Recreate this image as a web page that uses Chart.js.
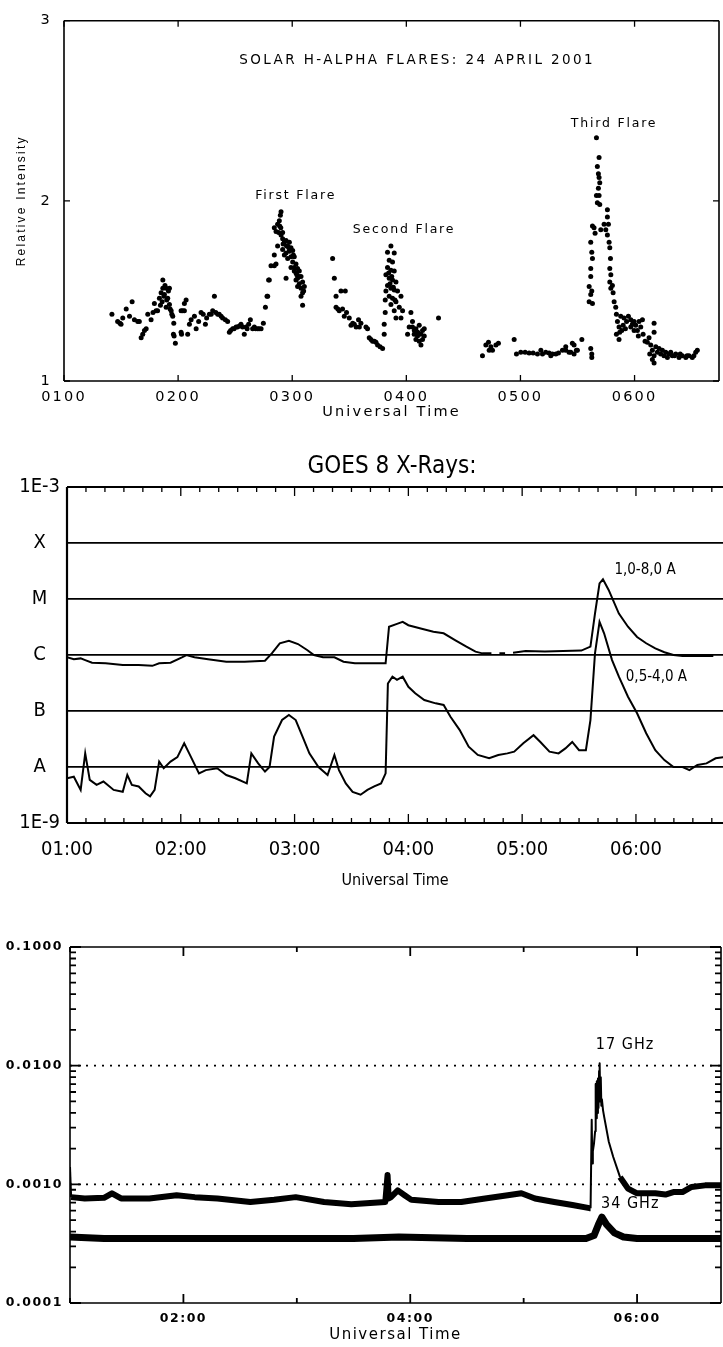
<!DOCTYPE html>
<html>
<head>
<meta charset="utf-8">
<script src="https://cdn.jsdelivr.net/npm/chart.js@4.4.1/dist/chart.umd.min.js"></script>
<style>
  body { margin: 0; background: #fff; }
  #wrap { position: relative; width: 723px; height: 1347px; overflow: hidden; background: #fff; }
  canvas { position: absolute; left: 0; }
</style>
</head>
<body>
<div id="wrap">
  <canvas id="c1" width="723" height="425" style="top:0px"></canvas>
  <canvas id="c2" width="723" height="475" style="top:425px"></canvas>
  <canvas id="c3" width="723" height="447" style="top:900px"></canvas>
</div>
<script>
// ---- panel 1: H-alpha relative intensity, [hour UT, intensity] ----
const haPoints = [
  [1.42,1.37],[1.47,1.33],[1.49,1.32],[1.50,1.315],[1.515,1.35],[1.545,1.40],[1.574,1.36],[1.597,1.44],
  [1.617,1.34],[1.646,1.33],[1.66,1.33],[1.676,1.24],[1.69,1.26],[1.705,1.28],[1.72,1.29],[1.734,1.37],
  [1.763,1.34],[1.78,1.38],[1.792,1.43],[1.807,1.39],[1.82,1.39],[1.836,1.46],[1.845,1.42],[1.851,1.49],
  [1.86,1.44],[1.866,1.56],[1.866,1.515],[1.875,1.47],[1.88,1.48],[1.885,1.53],[1.895,1.515],[1.895,1.41],
  [1.90,1.45],[1.909,1.46],[1.915,1.50],[1.924,1.515],[1.924,1.425],[1.93,1.40],[1.939,1.39],[1.945,1.37],
  [1.953,1.36],[1.962,1.32],[1.959,1.26],[1.965,1.25],[1.976,1.21],[2.026,1.27],[2.03,1.26],[2.026,1.39],
  [2.04,1.39],[2.055,1.43],[2.055,1.39],[2.07,1.45],[2.084,1.26],[2.099,1.315],[2.114,1.34],[2.143,1.36],
  [2.158,1.29],[2.18,1.33],[2.201,1.38],[2.22,1.37],[2.239,1.315],[2.25,1.35],[2.274,1.37],[2.29,1.37],
  [2.303,1.39],[2.318,1.47],[2.33,1.38],[2.347,1.37],[2.36,1.37],[2.377,1.36],[2.39,1.35],[2.414,1.34],
  [2.434,1.33],[2.449,1.27],[2.46,1.28],[2.478,1.29],[2.49,1.29],[2.508,1.30],[2.52,1.30],[2.537,1.305],
  [2.551,1.315],[2.565,1.30],[2.58,1.26],[2.595,1.30],[2.605,1.29],[2.618,1.315],[2.633,1.34],[2.653,1.29],
  [2.668,1.30],[2.68,1.29],[2.697,1.29],[2.71,1.29],[2.727,1.29],[2.747,1.32],[2.765,1.41],[2.779,1.47],
  [2.785,1.47],[2.793,1.56],[2.799,1.56],[2.814,1.64],[2.843,1.64],[2.858,1.65],[2.843,1.70],[2.872,1.75],
  [2.872,1.87],[2.843,1.85],[2.858,1.83],[2.881,1.825],[2.887,1.89],[2.896,1.92],[2.902,1.94],[2.902,1.81],
  [2.916,1.825],[2.916,1.79],[2.916,1.73],[2.931,1.77],[2.931,1.70],[2.946,1.78],[2.946,1.71],[2.946,1.57],
  [2.96,1.75],[2.96,1.68],[2.975,1.77],[2.975,1.72],[2.989,1.74],[2.989,1.69],[2.989,1.63],[3.004,1.725],
  [3.004,1.66],[3.018,1.69],[3.018,1.63],[3.018,1.61],[3.033,1.65],[3.033,1.60],[3.033,1.56],[3.047,1.625],
  [3.047,1.57],[3.047,1.525],[3.062,1.61],[3.062,1.54],[3.077,1.58],[3.077,1.515],[3.077,1.47],[3.091,1.55],
  [3.091,1.49],[3.091,1.42],[3.106,1.525],[3.10,1.50],[3.06,1.58],[3.04,1.59],[3.01,1.70],[2.97,1.74],
  [2.95,1.75],[2.92,1.76],[2.90,1.85],[2.89,1.86],
  [3.354,1.68],[3.369,1.57],[3.384,1.47],[3.427,1.50],[3.465,1.50],[3.384,1.41],[3.40,1.40],[3.412,1.39],
  [3.441,1.40],[3.456,1.36],[3.476,1.38],[3.50,1.35],[3.515,1.31],[3.53,1.32],[3.544,1.315],[3.56,1.30],
  [3.581,1.34],[3.588,1.30],[3.602,1.32],[3.646,1.30],[3.66,1.29],[3.675,1.24],[3.69,1.23],[3.704,1.22],
  [3.72,1.22],[3.734,1.215],[3.748,1.20],[3.77,1.19],[3.792,1.18],[3.806,1.315],[3.806,1.26],[3.815,1.45],
  [3.815,1.38],[3.821,1.59],[3.821,1.50],[3.835,1.715],[3.835,1.63],[3.835,1.53],[3.845,1.60],[3.85,1.67],
  [3.85,1.57],[3.85,1.47],[3.857,1.54],[3.865,1.75],[3.865,1.615],[3.865,1.515],[3.865,1.425],[3.872,1.58],
  [3.879,1.66],[3.879,1.56],[3.879,1.46],[3.886,1.52],[3.894,1.71],[3.894,1.61],[3.894,1.505],[3.894,1.39],
  [3.90,1.45],[3.909,1.55],[3.909,1.44],[3.909,1.35],[3.923,1.50],[3.938,1.41],[3.953,1.47],[3.953,1.35],
  [3.967,1.39],[4.011,1.26],[4.025,1.30],[4.04,1.38],[4.054,1.33],[4.054,1.30],[4.069,1.26],[4.084,1.29],
  [4.084,1.23],[4.098,1.25],[4.113,1.31],[4.113,1.22],[4.128,1.26],[4.128,1.20],[4.142,1.28],[4.142,1.23],
  [4.157,1.29],[4.157,1.25],[4.07,1.28],[4.10,1.27],[4.282,1.35],
  [4.667,1.14],[4.697,1.20],[4.72,1.215],[4.726,1.17],[4.741,1.19],[4.755,1.17],[4.785,1.20],[4.807,1.21],
  [4.945,1.23],[4.965,1.15],[5.003,1.16],[5.041,1.16],[5.076,1.155],[5.111,1.155],[5.149,1.15],[5.179,1.17],
  [5.193,1.15],[5.222,1.16],[5.251,1.155],[5.266,1.14],[5.28,1.15],[5.31,1.15],[5.333,1.155],[5.368,1.17],
  [5.397,1.17],[5.397,1.19],[5.426,1.16],[5.441,1.16],[5.455,1.21],[5.47,1.15],[5.47,1.20],[5.49,1.17],
  [5.499,1.17],[5.538,1.23],[5.616,1.18],[5.625,1.15],[5.625,1.13],
  [5.602,1.525],[5.602,1.44],[5.616,1.48],[5.616,1.58],[5.616,1.625],[5.616,1.77],[5.625,1.50],[5.625,1.715],
  [5.631,1.68],[5.631,1.43],[5.631,1.86],[5.645,1.85],[5.654,1.82],[5.666,2.35],[5.666,2.03],[5.674,2.19],
  [5.674,1.99],[5.683,2.15],[5.683,2.07],[5.689,2.24],[5.689,2.13],[5.689,2.03],[5.695,2.10],[5.695,1.98],
  [5.704,1.84],[5.733,1.87],[5.748,1.84],[5.762,1.95],[5.762,1.91],[5.762,1.81],[5.771,1.87],[5.777,1.77],
  [5.783,1.74],[5.789,1.68],[5.783,1.625],[5.792,1.59],[5.783,1.55],[5.806,1.53],[5.792,1.515],[5.812,1.49],
  [5.821,1.44],[5.835,1.41],[5.841,1.37],[5.85,1.33],[5.864,1.30],[5.841,1.26],[5.864,1.23],[5.888,1.28],
  [5.879,1.36],[5.908,1.35],[5.946,1.36],[5.967,1.34],[5.981,1.315],[5.996,1.33],[6.01,1.31],[6.025,1.28],
  [6.039,1.33],[6.054,1.30],[6.069,1.34],[6.075,1.26],[6.033,1.25],[5.996,1.28],[5.967,1.30],[5.93,1.33],
  [5.92,1.29],[5.90,1.31],[5.87,1.27],[6.092,1.22],[6.112,1.215],[6.127,1.24],[6.171,1.32],[6.171,1.27],
  [6.142,1.20],[6.156,1.17],[6.186,1.19],[6.20,1.16],[6.171,1.14],[6.171,1.10],[6.215,1.18],[6.229,1.15],
  [6.244,1.17],[6.258,1.14],[6.273,1.16],[6.288,1.13],[6.317,1.16],[6.331,1.14],[6.361,1.15],[6.39,1.13],
  [6.419,1.14],[6.449,1.13],[6.477,1.14],[6.506,1.13],[6.536,1.16],[6.55,1.17],[6.133,1.15],[6.156,1.12],
  [6.30,1.15],[6.35,1.14],[6.40,1.15],[6.46,1.14],[6.52,1.14]
];
const haHours = [1, 2, 3, 4, 5, 6];
const haLevels = [1, 2, 3];

// ---- panel 2: GOES 8 X-ray flux (W/m^2), [hour UT, flux] ----
const goesLong = [
  [1.00,9.1e-7],[1.06,8.4e-7],[1.12,8.7e-7],[1.16,8.1e-7],[1.22,7.3e-7],[1.34,7.1e-7],[1.49,6.6e-7],[1.63,6.6e-7],
  [1.75,6.4e-7],[1.81,7.1e-7],[1.91,7.3e-7],[2.01,9.1e-7],[2.05,1.0e-6],[2.12,9.1e-7],[2.24,8.4e-7],[2.40,7.6e-7],
  [2.56,7.6e-7],[2.74,7.9e-7],[2.80,1.07e-6],[2.87,1.62e-6],[2.95,1.8e-6],[3.03,1.57e-6],[3.11,1.23e-6],[3.17,1.0e-6],
  [3.25,9.1e-7],[3.35,9.1e-7],[3.43,7.6e-7],[3.53,7.1e-7],[3.66,7.1e-7],[3.80,7.1e-7],[3.83,3.2e-6],[3.90,3.6e-6],
  [3.95,3.9e-6],[4.00,3.4e-6],[4.10,3.0e-6],[4.22,2.6e-6],[4.31,2.44e-6],[4.41,1.85e-6],[4.51,1.41e-6],[4.59,1.15e-6],
  [4.65,1.07e-6],[4.73,1.07e-6],[4.76,null],[4.80,1.07e-6],[4.85,1.07e-6],[4.88,null],[4.92,1.1e-6],[5.03,1.18e-6],
  [5.20,1.15e-6],[5.36,1.18e-6],[5.52,1.2e-6],[5.60,1.41e-6],[5.64,5.5e-6],[5.68,1.9e-5],[5.71,2.24e-5],[5.76,1.45e-5],
  [5.85,5.5e-6],[5.93,3.2e-6],[6.01,2.1e-6],[6.09,1.62e-6],[6.17,1.31e-6],[6.25,1.12e-6],[6.33,1.0e-6],[6.41,9.6e-7],
  [6.49,9.6e-7],[6.68,9.6e-7]
];
const goesShort = [
  [1.00,6.3e-9],[1.06,6.7e-9],[1.12,3.9e-9],[1.16,1.75e-8],[1.20,5.9e-9],[1.26,4.8e-9],[1.32,5.5e-9],[1.41,3.9e-9],
  [1.49,3.6e-9],[1.53,7.2e-9],[1.57,4.8e-9],[1.63,4.5e-9],[1.69,3.4e-9],[1.73,3.0e-9],[1.77,3.9e-9],[1.81,1.25e-8],
  [1.85,9.5e-9],[1.91,1.25e-8],[1.97,1.5e-8],[2.03,2.65e-8],[2.09,1.5e-8],[2.16,7.7e-9],[2.22,8.8e-9],[2.32,9.5e-9],
  [2.40,7.2e-9],[2.48,6.3e-9],[2.58,5.1e-9],[2.62,1.75e-8],[2.68,1.16e-8],[2.74,8.3e-9],[2.78,1.0e-8],[2.82,3.5e-8],
  [2.89,6.9e-8],[2.95,8.5e-8],[3.01,6.9e-8],[3.07,3.5e-8],[3.13,1.75e-8],[3.21,1.0e-8],[3.29,7.2e-9],[3.35,1.64e-8],
  [3.39,8.8e-9],[3.45,5.1e-9],[3.51,3.6e-9],[3.58,3.2e-9],[3.64,3.9e-9],[3.70,4.5e-9],[3.76,5.1e-9],[3.80,7.7e-9],
  [3.82,3.1e-7],[3.86,4.1e-7],[3.90,3.6e-7],[3.95,4.1e-7],[4.00,2.7e-7],[4.06,2.07e-7],[4.14,1.57e-7],[4.24,1.37e-7],
  [4.31,1.28e-7],[4.37,7.9e-8],[4.45,4.6e-8],[4.53,2.3e-8],[4.61,1.64e-8],[4.71,1.43e-8],[4.79,1.64e-8],[4.87,1.75e-8],
  [4.93,1.88e-8],[5.01,2.65e-8],[5.10,3.7e-8],[5.16,2.8e-8],[5.24,1.88e-8],[5.32,1.75e-8],[5.38,2.15e-8],[5.44,2.8e-8],
  [5.50,2.0e-8],[5.56,2.0e-8],[5.60,6.9e-8],[5.64,1.07e-6],[5.68,3.9e-6],[5.72,2.44e-6],[5.79,8.1e-7],[5.85,4.1e-7],
  [5.93,1.8e-7],[6.01,9.1e-8],[6.09,4.0e-8],[6.17,2.0e-8],[6.25,1.33e-8],[6.33,1.0e-8],[6.41,1.0e-8],[6.47,8.8e-9],
  [6.54,1.09e-8],[6.62,1.16e-8],[6.70,1.43e-8],[6.77,1.5e-8]
];
const goesExp = [-9, -8, -7, -6, -5, -4, -3];
const goesClass = ['1E-9', 'A', 'B', 'C', 'M', 'X', '1E-3'];
const goesHours = [1, 2, 3, 4, 5, 6];

// ---- panel 3: radio flux at 17 and 34 GHz, [hour UT, flux] ----
const radio17 = [
  [1.00,1.4e-3],[1.01,7.8e-4],[1.13,7.6e-4],[1.30,7.7e-4],[1.37,8.4e-4],[1.45,7.6e-4],[1.70,7.6e-4],[1.94,8.1e-4],
  [2.10,7.8e-4],[2.30,7.6e-4],[2.59,7.1e-4],[2.80,7.4e-4],[2.99,7.8e-4],[3.24,7.1e-4],[3.48,6.8e-4],[3.78,7.1e-4],
  [3.80,1.2e-3],[3.81,7.6e-4],[3.83,7.8e-4],[3.89,8.9e-4],[3.95,8.1e-4],[4.01,7.4e-4],[4.25,7.1e-4],[4.45,7.1e-4],
  [4.66,7.6e-4],[4.86,8.1e-4],[4.98,8.4e-4],[5.10,7.6e-4],[5.27,7.1e-4],[5.43,6.7e-4],[5.58,6.3e-4],[5.59,6.3e-4],
  [5.60,3.5e-3],[5.605,1.5e-3],[5.61,1.9e-3],[5.62,2.2e-3],[5.63,2.8e-3],[5.635,7.0e-3],[5.64,3.6e-3],[5.645,7.4e-3],
  [5.65,4.0e-3],[5.655,7.8e-3],[5.66,4.4e-3],[5.665,9.0e-3],[5.67,1.05e-2],[5.675,5.0e-3],[5.68,8.0e-3],[5.685,4.6e-3],
  [5.69,5.2e-3],[5.70,4.2e-3],[5.71,3.7e-3],[5.75,2.3e-3],[5.79,1.7e-3],[5.85,1.15e-3],[5.92,9.2e-4],[6.00,8.4e-4],
  [6.16,8.4e-4],[6.25,8.2e-4],[6.32,8.6e-4],[6.40,8.6e-4],[6.48,9.5e-4],[6.60,9.8e-4],[6.75,9.8e-4]
];
const radio34 = [
  [1.00,3.6e-4],[1.30,3.5e-4],[1.80,3.5e-4],[2.50,3.5e-4],[3.00,3.5e-4],[3.50,3.5e-4],[3.90,3.6e-4],[4.50,3.5e-4],
  [5.00,3.5e-4],[5.55,3.5e-4],[5.62,3.7e-4],[5.66,4.6e-4],[5.69,5.3e-4],[5.73,4.6e-4],[5.80,3.9e-4],[5.88,3.6e-4],
  [6.00,3.5e-4],[6.40,3.5e-4],[6.75,3.5e-4]
];
const radioExp = [-4, -3, -2, -1];
const radioHours = [2, 4, 6];

const F1 = "'DejaVu Sans', sans-serif";
const F2 = "'Liberation Sans Narrow', 'DejaVu Sans Condensed', 'DejaVu Sans', sans-serif";
const F3 = "'DejaVu Sans', sans-serif";

const toXY = arr => arr.map(p => ({ x: p[0], y: p[1] }));
const hh = v => '0' + v;

// frame, inward tick marks and extra reference lines
const frame = {
  id: 'frame',
  afterDraw(chart, args, o) {
    const { ctx, chartArea: a, scales: { x, y } } = chart;
    ctx.save();
    ctx.strokeStyle = '#000';
    ctx.lineCap = 'butt';
    (o.hlines || []).forEach(h => {
      ctx.beginPath();
      ctx.lineWidth = 1.6;
      ctx.setLineDash([2, 6]);
      const py = y.getPixelForValue(h);
      ctx.moveTo(a.left, py); ctx.lineTo(a.right, py);
      ctx.stroke();
    });
    ctx.setLineDash([]);
    ctx.lineWidth = o.width || 1.5;
    ctx.beginPath();
    if (o.sides.includes('l')) { ctx.moveTo(a.left, a.top); ctx.lineTo(a.left, a.bottom); }
    if (o.sides.includes('b')) { ctx.moveTo(a.left, a.bottom); ctx.lineTo(a.right, a.bottom); }
    if (o.sides.includes('t')) { ctx.moveTo(a.left, a.top); ctx.lineTo(a.right, a.top); }
    if (o.sides.includes('r')) { ctx.moveTo(a.right, a.top); ctx.lineTo(a.right, a.bottom); }
    ctx.stroke();
    ctx.lineWidth = o.tickWidth || 1.3;
    ctx.beginPath();
    (o.xTicks || []).forEach(t => {
      const px = x.getPixelForValue(t[0]);
      if (px < a.left - 0.5 || px > a.right + 0.5) return;
      ctx.moveTo(px, a.bottom); ctx.lineTo(px, a.bottom - t[1]);
      ctx.moveTo(px, a.top); ctx.lineTo(px, a.top + t[1]);
    });
    (o.yTicks || []).forEach(t => {
      const py = y.getPixelForValue(t[0]);
      ctx.moveTo(a.left, py); ctx.lineTo(a.left + t[1], py);
      if (o.sides.includes('r')) { ctx.moveTo(a.right, py); ctx.lineTo(a.right - t[1], py); }
    });
    ctx.stroke();
    ctx.restore();
  }
};

// text notes placed in data coordinates
const notes = {
  id: 'notes',
  afterDraw(chart, args, o) {
    const { ctx, scales: { x, y } } = chart;
    ctx.save();
    ctx.fillStyle = '#000';
    ctx.textAlign = 'center';
    ctx.textBaseline = 'middle';
    (o.items || []).forEach(n => {
      ctx.font = n.font;
      ctx.letterSpacing = n.spacing || '0px';
      ctx.fillText(n.text, x.getPixelForValue(n.x), y.getPixelForValue(n.y));
    });
    ctx.restore();
  }
};

// letter spacing for the library-drawn tick labels and titles
const spacing = {
  id: 'spacing',
  beforeDraw(chart, args, o) { chart.ctx.letterSpacing = o.px || '0px'; },
  afterDraw(chart) { chart.ctx.letterSpacing = '0px'; }
};

const base = {
  responsive: false,
  animation: false,
  events: [],
};

// ---------------- panel 1 ----------------
new Chart(document.getElementById('c1'), {
  type: 'scatter',
  data: {
    datasets: [{
      data: toXY(haPoints),
      pointRadius: 2.5,
      pointBackgroundColor: '#000',
      pointBorderWidth: 0
    }]
  },
  options: {
    ...base,
    layout: { padding: { top: 14, right: 3, left: 0, bottom: 0 } },
    plugins: {
      legend: { display: false }, tooltip: { enabled: false },
      spacing: { px: '2.2px' },
      frame: {
        sides: 'lbtr', width: 1.6,
        xTicks: haHours.map(h => [h, 6]),
        yTicks: haLevels.map(v => [v, 6])
      },
      notes: {
        items: [
          { text: 'SOLAR H-ALPHA FLARES: 24 APRIL 2001', x: 4.095, y: 2.78, font: '13.5px ' + F1, spacing: '2.4px' },
          { text: 'First Flare', x: 3.03, y: 2.027, font: '12.5px ' + F1, spacing: '1.8px' },
          { text: 'Second Flare', x: 3.98, y: 1.84, font: '12.5px ' + F1, spacing: '1.8px' },
          { text: 'Third Flare', x: 5.82, y: 2.43, font: '12.5px ' + F1, spacing: '1.8px' }
        ]
      }
    },
    scales: {
      x: {
        type: 'linear', min: 1, max: 6.74,
        afterBuildTicks: s => { s.ticks = haHours.map(v => ({ value: v })); },
        afterFit: s => { s.height = 44; },
        grid: { display: false, drawTicks: false },
        border: { display: false },
        ticks: { padding: 8, color: '#000', font: { family: F1, size: 14.5 }, maxRotation: 0, autoSkip: false,
                 callback: v => hh(v) + '00' },
        title: { display: true, text: 'Universal Time', color: '#000', font: { family: F1, size: 14.5 },
                 padding: { top: 0, bottom: 4 } }
      },
      y: {
        type: 'linear', min: 1, max: 3,
        afterBuildTicks: s => { s.ticks = haLevels.map(v => ({ value: v })); },
        afterFit: s => { s.width = 64; },
        grid: { display: false, drawTicks: false },
        border: { display: false },
        ticks: { padding: 12, color: '#000', font: { family: F1, size: 14.5 } },
        title: { display: true, text: 'Relative Intensity', color: '#000', font: { family: "'Liberation Sans', sans-serif", size: 12 },
                 padding: { top: 14, bottom: 0 } }
      }
    }
  },
  plugins: [frame, notes, spacing]
});

// ---------------- panel 2 ----------------
new Chart(document.getElementById('c2'), {
  type: 'line',
  data: {
    datasets: [
      { data: toXY(goesLong), borderColor: '#000', borderWidth: 2, pointRadius: 0, tension: 0, spanGaps: false },
      { data: toXY(goesShort), borderColor: '#000', borderWidth: 2, pointRadius: 0, tension: 0 }
    ]
  },
  options: {
    ...base,
    layout: { padding: { top: 62, right: 0, left: 0, bottom: 0 } },
    plugins: {
      legend: { display: false }, tooltip: { enabled: false },
      frame: {
        sides: 'lbt', width: 2.2,
        xTicks: Array.from({ length: 36 }, (_, k) => [1 + k / 6, k % 6 === 0 ? 9 : 5])
      },
      notes: {
        items: [
          { text: 'GOES 8 X-Rays:', x: 3.856, y: 2.3e-3, font: '24px ' + F2 },
          { text: '1,0-8,0 A', x: 6.08, y: 3.3e-5, font: '15px ' + F2 },
          { text: '0,5-4,0 A', x: 6.18, y: 4.0e-7, font: '15px ' + F2 }
        ]
      }
    },
    scales: {
      x: {
        type: 'linear', min: 1, max: 6.765,
        afterBuildTicks: s => { s.ticks = goesHours.map(v => ({ value: v })); },
        afterFit: s => { s.height = 77; },
        grid: { display: false, drawTicks: false },
        border: { display: false },
        ticks: { padding: 15, color: '#000', font: { family: F2, size: 20 }, maxRotation: 0, autoSkip: false,
                 callback: v => hh(v) + ':00' },
        title: { display: true, text: 'Universal Time', color: '#000', font: { family: F2, size: 16 },
                 padding: { top: 0, bottom: 10 } }
      },
      y: {
        type: 'logarithmic', min: 1e-9, max: 1e-3,
        afterBuildTicks: s => { s.ticks = goesExp.map(e => ({ value: Math.pow(10, e) })); },
        afterFit: s => { s.width = 67; },
        grid: { display: true, drawTicks: false, color: '#000', lineWidth: 1.7 },
        border: { display: false },
        ticks: { padding: 7, crossAlign: 'center', color: '#000', font: { family: F2, size: 20 },
                 callback: v => goesClass[goesExp.indexOf(Math.round(Math.log10(v)))] }
      }
    }
  },
  plugins: [frame, notes]
});

// ---------------- panel 3 ----------------
const radioMinor = [];
radioExp.forEach(e => { for (let k = 1; k <= 9; k++) if (e < -1 || k === 1) radioMinor.push([k * Math.pow(10, e), k === 1 ? 11 : 6]); });

new Chart(document.getElementById('c3'), {
  type: 'line',
  data: {
    datasets: [
      { data: toXY(radio17), borderColor: '#000', borderWidth: 2, pointRadius: 0, tension: 0, borderJoinStyle: 'round',
        segment: { borderWidth: c => (c.p0.parsed.y < 1.3e-3 && c.p1.parsed.y < 1.3e-3) ? 6 : 2 } },
      { data: toXY(radio34), borderColor: '#000', borderWidth: 7, pointRadius: 0, tension: 0, borderJoinStyle: 'round' }
    ]
  },
  options: {
    ...base,
    layout: { padding: { top: 47, right: 2, left: 0, bottom: 0 } },
    plugins: {
      legend: { display: false }, tooltip: { enabled: false },
      spacing: { px: '1.5px' },
      frame: {
        sides: 'lbtr', width: 1.6, tickWidth: 1.8,
        hlines: [1e-2, 1e-3],
        xTicks: [[1, 5], [2, 9], [3, 5], [4, 9], [5, 5], [6, 9]],
        yTicks: radioMinor
      },
      notes: {
        items: [
          { text: '17 GHz', x: 5.894, y: 0.015, font: '16px ' + F2, spacing: '1px' },
          { text: '34 GHz', x: 5.94, y: 6.8e-4, font: '16px ' + F2, spacing: '1px' }
        ]
      }
    },
    scales: {
      x: {
        type: 'linear', min: 1, max: 6.74,
        afterBuildTicks: s => { s.ticks = radioHours.map(v => ({ value: v })); },
        afterFit: s => { s.height = 44; },
        grid: { display: false, drawTicks: false },
        border: { display: false },
        ticks: { padding: 8, color: '#000', font: { family: F3, size: 12.5, weight: 'bold' }, maxRotation: 0, autoSkip: false,
                 callback: v => hh(v) + ':00' },
        title: { display: true, text: 'Universal Time', color: '#000', font: { family: F3, size: 15 },
                 padding: { top: 0, bottom: 3 } }
      },
      y: {
        type: 'logarithmic', min: 1e-4, max: 1e-1,
        afterBuildTicks: s => { s.ticks = radioExp.map(e => ({ value: Math.pow(10, e) })); },
        afterFit: s => { s.width = 70; },
        grid: { display: false, drawTicks: false },
        border: { display: false },
        ticks: { padding: 7, color: '#000', font: { family: F3, size: 12.5, weight: 'bold' },
                 callback: v => v.toFixed(4) }
      }
    }
  },
  plugins: [frame, notes, spacing]
});
</script>
</body>
</html>
